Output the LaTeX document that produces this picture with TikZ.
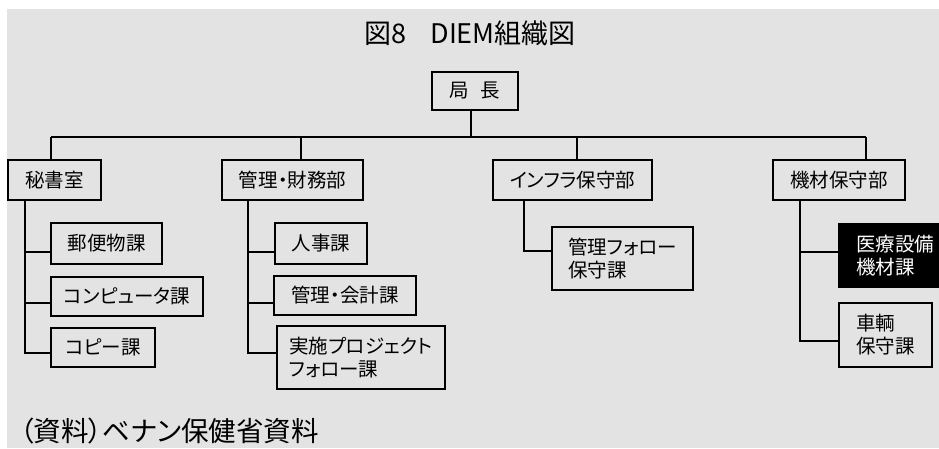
\documentclass[tikz,border=0pt]{standalone}
\usepackage{fontspec}
\setmainfont[RawFeature=+palt]{Noto Sans CJK JP}
\definecolor{bggray}{HTML}{E3E3E3}

\begin{document}
\begin{tikzpicture}[x=1pt,y=-1pt,
    box/.style={draw, line width=1.5pt, minimum height=40pt, inner sep=0pt,
        align=left, font=\fontsize{19.5pt}{23pt}\selectfont},
    link/.style={line width=1.6pt}]
    % Define the bounding box and the grey background
    \useasboundingbox (0,0) rectangle (939,448);
    \fill[bggray] (7,9) rectangle (939,448);

    % Title and source
    \node (title) at (470,33) {\fontsize{27pt}{30pt}\selectfont 図8\hspace{0.9em}DIEM組織図};
    \node (source) [anchor=west, inner sep=0pt] at (20,431) {\fontsize{27.5pt}{30pt}\selectfont （資料）ベナン保健省資料};

    % Director and the four departments
    \node[box, minimum width=86pt, minimum height=38pt] (dir) at (475,91) {局\hspace{0.6em}長};
    \node[box, minimum width=93pt] (sec) at (54.5,180) {秘書室};
    \node[box, minimum width=141pt] (adm) at (292.5,180) {管理・財務部};
    \node[box, minimum width=159pt] (inf) at (572.5,180) {インフラ保守部};
    \node[box, minimum width=132pt] (equ) at (839,180) {機材保守部};

    % Sections under each department
    \node[box, minimum width=111pt, minimum height=41pt] (mail) at (106.5,243.5) {郵便物課};
    \node[box, minimum width=152pt, minimum height=39pt] (comp) at (127,296.5) {コンピュータ課};
    \node[box, minimum width=104pt, minimum height=39pt] (copy) at (103,347.5) {コピー課};
    \node[box, minimum width=92pt, minimum height=41pt] (hr) at (321,243.5) {人事課};
    \node[box, minimum width=142pt, minimum height=39pt] (acc) at (345,295.5) {管理・会計課};
    \node[box, minimum width=168pt, minimum height=63pt] (proj) at (361,357.5) {実施プロジェクト\\フォロー課};
    \node[box, minimum width=141pt, minimum height=63pt] (maint) at (622.5,258.5) {管理フォロー\\保守課};
    \node[box, fill=black, text=white, minimum width=112pt, minimum height=63pt] (med) at (895,255.5) {医療設備\\機材課};
    \node[box, minimum width=93pt, minimum height=64pt] (car) at (885.5,335) {車輌\\保守課};

    % Bus from the director to the departments
    \coordinate (bsec) at (51,137);
    \coordinate (badm) at (301,137);
    \coordinate (binf) at (577,137);
    \coordinate (bequ) at (866,137);
    \draw[link] (bsec) -- (bequ);
    \draw[link] (dir.south -| 471,0) -- (471,137);
    \draw[link] (bsec) -- (bsec |- sec.north);
    \draw[link] (badm) -- (badm |- adm.north);
    \draw[link] (binf) -- (binf |- inf.north);
    \draw[link] (bequ) -- (bequ |- equ.north);

    % Points on the department spines
    \coordinate (sec1) at (25,252);
    \coordinate (sec2) at (25,303);
    \coordinate (sec3) at (25,353);
    \coordinate (adm1) at (248,252);
    \coordinate (adm2) at (248,303);
    \coordinate (adm3) at (248,353);
    \coordinate (inf1) at (524,251);
    \coordinate (equ1) at (800,252);
    \coordinate (equ2) at (800,341);

    % Spines and branches
    \draw[link] (sec.south -| sec3) -- (sec3) -- (sec3 -| copy.west);
    \draw[link] (sec1) -- (sec1 -| mail.west);
    \draw[link] (sec2) -- (sec2 -| comp.west);
    \draw[link] (adm.south -| adm3) -- (adm3) -- (adm3 -| proj.west);
    \draw[link] (adm1) -- (adm1 -| hr.west);
    \draw[link] (adm2) -- (adm2 -| acc.west);
    \draw[link] (inf.south -| inf1) -- (inf1) -- (inf1 -| maint.west);
    \draw[link] (equ.south -| equ2) -- (equ2) -- (equ2 -| car.west);
    \draw[link] (equ1) -- (equ1 -| med.west);
\end{tikzpicture}
\end{document}
